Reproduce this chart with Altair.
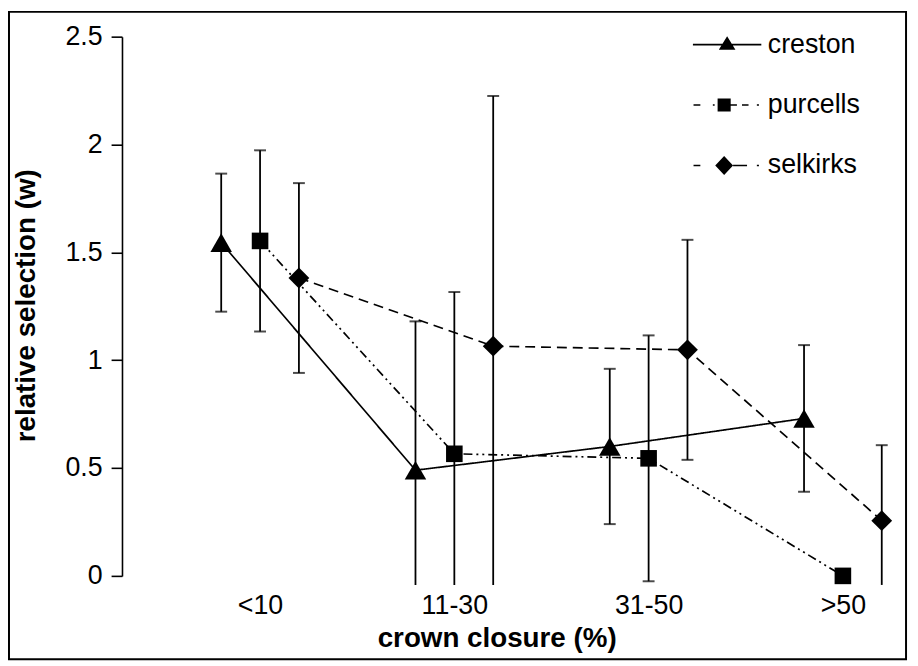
import json
import altair as alt
import pandas as pd

# ---- data ----
categories = ["<10", "11-30", "31-50", ">50"]
series = ["creston", "purcells", "selkirks"]
creston_w = [1.545, 0.49, 0.60, 0.73]
creston_err = [0.32, 0.69, 0.36, 0.34]
purcells_w = [1.553, 0.566, 0.545, 0.0]
purcells_err = [0.42, 0.75, 0.57, 0.0]
selkirks_w = [1.381, 1.065, 1.048, 0.256]
selkirks_err = [0.44, 1.16, 0.51, 0.35]
y_ticks = [0, 0.5, 1, 1.5, 2, 2.5]

rows = []
for s_i, (s, ws, es) in enumerate(zip(series,
                                      [creston_w, purcells_w, selkirks_w],
                                      [creston_err, purcells_err, selkirks_err])):
    for c_i, (c, w, e) in enumerate(zip(categories, ws, es)):
        rows.append(dict(series=s, s_idx=s_i, category=c, c_idx=c_i, w=w, err=e))
df = pd.DataFrame(rows)

# ---- style constants ----
FONT = "Liberation Sans"
DODGE = 0.2          # horizontal dodge between series inside a category
FLOOR = -0.042       # bottom of the plotting area (error bars are clipped here)
styles = {
    "creston": dict(dash=[1, 0], shape="triangle-up", size=470),
    "purcells": dict(dash=[9, 4, 2, 4, 2, 4], shape="square", size=280),
    "selkirks": dict(dash=[10, 6], shape="diamond", size=440),
}

legend_paths = [
    # creston: solid line + triangle
    "M-1.15,-0.027H1.15V0.027H-1.15Z M-0.28,0.17L0,-0.28L0.28,0.17Z",
    # purcells: dash-dot-dot + square
    "M-1.13,-0.027H-0.9V0.027H-1.13Z M-0.48,-0.027H-0.42V0.027H-0.48Z "
    "M-0.32,-0.22H0.12V0.22H-0.32Z M0.12,-0.027H0.33V0.027H0.12Z "
    "M0.5,-0.027H0.72V0.027H0.5Z M1.0,-0.027H1.07V0.027H1.0Z",
    # selkirks: dashed + diamond
    "M-1.13,-0.027H-0.9V0.027H-1.13Z M-0.4,0L-0.1,-0.32L0.2,0L-0.1,0.32Z "
    "M0.2,-0.027H0.67V0.027H0.2Z M1.0,-0.027H1.07V0.027H1.0Z",
]

xscale = alt.Scale(domain=[-0.7107, 3.2893], nice=False, zero=False)
yscale = alt.Scale(domain=[0, 2.5], nice=False, zero=False)

xaxis = alt.Axis(
    values=[0, 1, 2, 3],
    labelExpr=f"{json.dumps(categories)}[datum.value]",
    domain=False, ticks=False, tickSize=0, grid=False,
    labelPadding=17, labelFont=FONT, labelFontSize=27, labelColor="black",
    labelFlush=False, labelOverlap=False,
    title="crown closure (%)", titleFont=FONT, titleFontSize=28,
    titleFontWeight="bold", titleColor="black",
    titleX=378, titleY=71, titleBaseline="alphabetic", titleAlign="center",
)
yaxis = alt.Axis(
    values=y_ticks, format="~g",
    domainColor="black", domainWidth=1.6,
    tickColor="black", tickWidth=1.6, tickSize=11,
    grid=False, labelPadding=9, labelFont=FONT, labelFontSize=27,
    labelColor="black",
    title="relative selection (w)", titleFont=FONT, titleFontSize=28,
    titleFontWeight="bold", titleColor="black",
    titleAngle=270, titleX=-88, titleY=271, titleBaseline="alphabetic",
    titleAlign="center",
)


def X():
    return alt.X("pos:Q", scale=xscale, axis=xaxis)


def Y(field="w"):
    return alt.Y(f"{field}:Q", scale=yscale, axis=yaxis)


base = alt.Chart(df).transform_calculate(
    pos=f"datum.c_idx + {DODGE} * (datum.s_idx - 1)",
    hi="datum.w + datum.err",
    lo="datum.w - datum.err",
).transform_calculate(
    lo_shown=f"max(datum.lo, {FLOOR})"
)

layers = []

frame = alt.Chart(alt.Data(values=[{}])).mark_rect(
    filled=False, color="black", strokeWidth=2).encode(
    x=alt.value(-114), x2=alt.value(791), y=alt.value(-25), y2=alt.value(628))
layers.append(frame)

for s in series:
    st = styles[s]
    layers.append(
        base.transform_filter(f"datum.series == '{s}'").mark_line(
            color="black", strokeWidth=1.7, strokeDash=st["dash"]).encode(
            x=X(), y=Y(), order="pos:Q")
    )

layers.append(base.transform_filter("datum.err > 0").mark_rule(
    color="black", strokeWidth=1.8).encode(
    x=X(), y=Y("lo_shown"), y2="hi:Q"))

layers.append(base.transform_filter("datum.err > 0").mark_tick(
    color="black", orient="horizontal", size=12, thickness=2).encode(
    x=X(), y=Y("hi")))

layers.append(base.transform_filter(
    f"datum.err > 0 && datum.lo >= {FLOOR}").mark_tick(
    color="black", orient="horizontal", size=12, thickness=2).encode(
    x=X(), y=Y("lo")))

for s in series:
    st = styles[s]
    layers.append(
        base.transform_filter(f"datum.series == '{s}'").mark_point(
            shape=st["shape"], filled=True, color="black", size=st["size"],
            opacity=1, strokeWidth=0).encode(x=X(), y=Y())
    )

legend_layer = base.mark_point(filled=True, color="black", opacity=0,
                               size=3600, strokeWidth=0).encode(
    x=X(), y=Y(),
    shape=alt.Shape("series:N",
                    scale=alt.Scale(domain=series, range=legend_paths),
                    legend=alt.Legend(
                        title=None, orient="none", legendX=580.5, legendY=-22,
                        symbolSize=3600, symbolFillColor="black",
                        symbolStrokeColor="black", symbolStrokeWidth=0,
                        symbolOpacity=1, labelFont=FONT, labelFontSize=27,
                        labelColor="black", labelOffset=11, rowPadding=18,
                        padding=0, labelLimit=0)),
)
layers.append(legend_layer)

chart = alt.layer(*layers).properties(
    width=784, height=544,
    padding={"left": 115, "top": 26, "right": 11, "bottom": 88},
    autosize=alt.AutoSizeParams(type="none"),
    background="white",
).configure_view(strokeWidth=0)

chart.save("out.html", embed_options={"renderer": "svg", "actions": False})
